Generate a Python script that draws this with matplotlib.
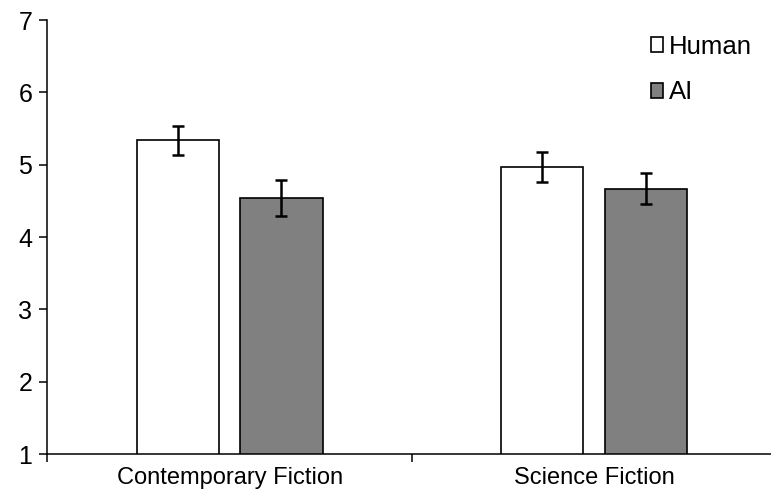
import numpy as np
import matplotlib
matplotlib.use("Agg")
import matplotlib.pyplot as plt

plt.rcParams["font.family"] = ["Liberation Sans", "DejaVu Sans"]

categories = ["Contemporary Fiction", "Science Fiction"]
human = [5.34, 4.97]
human_err = [0.20, 0.21]
ai = [4.54, 4.67]
ai_err = [0.25, 0.22]

fig = plt.figure(figsize=(7.71, 5.01), dpi=100)
ax = fig.add_axes([0.0616, 0.0938, 0.9455, 0.8662])

x = np.arange(len(categories))
w = 0.225
off = 0.142
err_kw = dict(ecolor="black", elinewidth=1.8, capsize=4, capthick=1.8)
ax.bar(x - off, human, w, color="white", edgecolor="black",
       linewidth=1.2, yerr=human_err, error_kw=err_kw, label="Human")
ax.bar(x + off, ai, w, color="#808080", edgecolor="black",
       linewidth=1.2, yerr=ai_err, error_kw=err_kw, label="AI")

ax.set_ylim(1, 7)
ax.set_xlim(-0.5, 1.5)
ax.set_yticks(range(1, 8))
ax.set_xticks([-0.5, 0.5, 1.5])
ax.set_xticklabels([])
ax.set_xticks(x, minor=True)
ax.set_xticklabels(categories, minor=True, fontsize=17)
ax.tick_params(axis="x", which="minor", length=0, pad=9)
ax.tick_params(axis="x", which="major", length=6, width=1.1, direction="out")
ax.tick_params(axis="y", length=6, width=1.1, labelsize=18, pad=5)

for s in ["top", "right"]:
    ax.spines[s].set_visible(False)
for s in ["left", "bottom"]:
    ax.spines[s].set_linewidth(1.1)

ax.legend(loc="upper right", bbox_to_anchor=(0.98, 0.99), frameon=False,
          fontsize=18.5, handlelength=0.5, handleheight=0.5, handletextpad=0.2,
          labelspacing=0.85, borderaxespad=0)

fig.savefig("out.png", dpi=100)
